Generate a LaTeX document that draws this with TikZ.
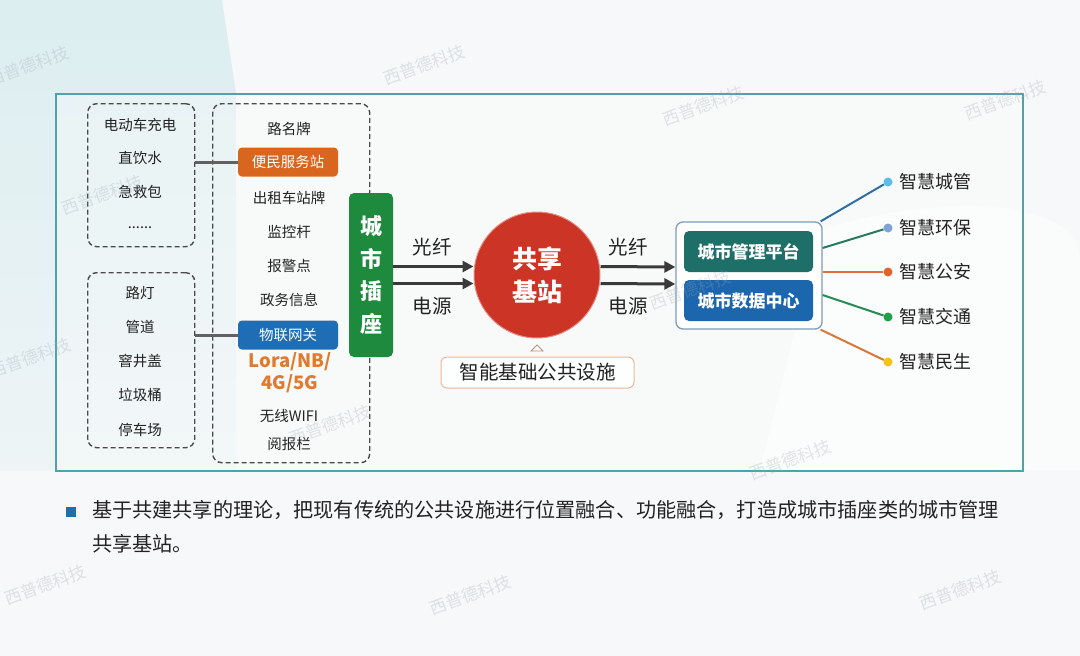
\documentclass[tikz,border=0pt]{standalone}
\usepackage{fontspec}
\setmainfont{Noto Sans CJK SC}
\usetikzlibrary{arrows.meta,shapes.geometric}
\definecolor{bgBase}{HTML}{F6F8F9}
\definecolor{bgCyanT}{HTML}{DCEEF0}
\definecolor{bgCyanB}{HTML}{EEF4F6}
\definecolor{frameC}{HTML}{4FA3A9}
\definecolor{dashC}{HTML}{4A4A4A}
\definecolor{txt}{HTML}{222222}
\definecolor{svcC}{HTML}{D9661E}
\definecolor{iotC}{HTML}{1F6DB5}
\definecolor{loraC}{HTML}{E27A2E}
\definecolor{plugC}{HTML}{1E8A3E}
\definecolor{hubC}{HTML}{CC3426}
\definecolor{arrC}{HTML}{3A3A3A}
\definecolor{infraC}{HTML}{E8B89A}
\definecolor{panelC}{HTML}{7E9CB8}
\definecolor{mgmtC}{HTML}{1D6F68}
\definecolor{dataC}{HTML}{1C66AE}
\definecolor{lA}{HTML}{2F6EA5}\definecolor{dA}{HTML}{5BBDE8}
\definecolor{lB}{HTML}{2A7A5E}\definecolor{dB}{HTML}{7FA3D4}
\definecolor{lC}{HTML}{E07040}\definecolor{dC}{HTML}{E0622C}
\definecolor{lD}{HTML}{2A8A55}\definecolor{dD}{HTML}{22A048}
\definecolor{lE}{HTML}{D9773A}\definecolor{dE}{HTML}{F4C21C}
\definecolor{bulC}{HTML}{1F6FA8}
\definecolor{wmC}{HTML}{9AA6B0}
\tikzset{
  item/.style={font=\fontsize{14.5}{15}\selectfont, text=txt, inner sep=0pt},
  dbox/.style={draw=dashC, line width=1.4pt, dash pattern=on 5pt off 3pt, rounded corners=9pt, anchor=north west, inner sep=0pt},
  tagbox/.style={rounded corners=4pt, text=white, minimum width=100pt, minimum height=29pt, inner sep=0pt, font=\fontsize{14.5}{15}\selectfont},
  conn/.style={draw=arrC!80, line width=3pt},
  arr/.style={draw=arrC, line width=3pt, -{Triangle[length=11pt,width=11pt]}},
  lbl/.style={font=\fontsize{19.5}{20}\selectfont, text=txt, inner sep=0pt},
  spoke/.style={line width=2pt},
  dot/.style={circle, minimum size=9pt, inner sep=0pt},
  smart/.style={font=\fontsize{18}{18}\selectfont, text=txt, anchor=west, inner sep=0pt},
  wm/.style={font=\fontsize{17}{17}\selectfont, text=wmC, opacity=0.28, rotate=20, inner sep=0pt},
}
\begin{document}
\begin{tikzpicture}[x=1pt,y=-1pt]
\useasboundingbox (0,0) rectangle (1080,656);
% background
\fill[bgBase] (0,0) rectangle (1080,656);
\shade[top color=bgCyanT, bottom color=bgCyanB] (0,0) -- (222,0) -- (236,93) -- (236,470) -- (0,470) -- cycle;
\fill[white, opacity=0.45] (820,230) .. controls (950,190) and (1080,200) .. (1080,260) -- (1080,470) -- (760,470) -- cycle;
% frame
\node[draw=frameC, line width=2pt, fill=white, fill opacity=0.3, minimum width=967pt, minimum height=377pt, anchor=north west, inner sep=0pt] (frame) at (55,93) {};
% left dashed boxes
\node[dbox, minimum width=107pt, minimum height=143pt] (lb1) at (87,103) {};
\node[dbox, minimum width=107pt, minimum height=175pt] (lb2) at (87,272) {};
\node[dbox, minimum width=157pt, minimum height=359pt] (mb) at (212,103) {};
% left box 1 items
\node[item] (a1) at (140,125) {电动车充电};
\node[item] (a2) at (140,158) {直饮水};
\node[item] (a3) at (140,192) {急救包};
\node[item] (a4) at (140,228) {......};
% left box 2 items
\node[item] (b1) at (140,293) {路灯};
\node[item] (b2) at (140,327) {管道};
\node[item] (b3) at (140,361) {窨井盖};
\node[item] (b4) at (140,395) {垃圾桶};
\node[item] (b5) at (140,430) {停车场};
% middle items
\node[item] (m1) at (289,129) {路名牌};
\node[tagbox, fill=svcC] (svc) at (288,162) {便民服务站};
\node[item] (m2) at (289,198) {出租车站牌};
\node[item] (m3) at (289,232) {监控杆};
\node[item] (m4) at (289,266) {报警点};
\node[item] (m5) at (289,300) {政务信息};
\node[tagbox, fill=iotC] (iot) at (288,335) {物联网关};
\node[font=\fontsize{18.5}{22}\selectfont\bfseries, text=loraC, align=center, inner sep=0pt] (lora) at (290,373) {Lora/NB/\\4G/5G};
\node[item] (m6) at (289,416) {无线WIFI};
\node[item] (m7) at (289,444) {阅报栏};
% connectors left
\draw[conn] (lb1.east |- svc.west) -- (svc.west);
\draw[conn] (lb2.east |- iot.west) -- (iot.west);
% plug bar
\node[fill=plugC, rounded corners=5pt, minimum width=44pt, minimum height=164pt, inner sep=0pt, text=white, align=center, font=\fontsize{22}{32.5}\selectfont\bfseries] (plug) at (371,275) {城\\市\\插\\座};
% hub
\node[circle, fill=hubC, draw=hubC!55!white, line width=1pt, minimum size=126pt, inner sep=0pt, text=white, align=center, font=\fontsize{25}{33}\selectfont\bfseries] (hub) at (537,275) {共享\\基站};
% arrows to hub
\draw[arr] ([yshift=8.5pt]plug.east) -- ([yshift=8.5pt]hub.west);
\draw[arr] ([yshift=-8.5pt]plug.east) -- ([yshift=-8.5pt]hub.west);
\node[lbl] (f1) at (432,247) {光纤};
\node[lbl] (p1) at (432,306) {电源};
% infra
\node[draw=infraC, line width=1pt, fill=white, fill opacity=0.8, text opacity=1, rounded corners=6pt, minimum width=193pt, minimum height=31pt, inner sep=0pt, font=\fontsize{19.5}{20}\selectfont, text=txt] (infra) at (537.5,372.5) {智能基础公共设施};
\draw[draw=infraC!80!black, line width=0.9pt, fill=white] (531,351) -- (537,345) -- (543,351) -- cycle;
% panel
\node[draw=panelC, line width=1.3pt, fill=white, rounded corners=7pt, minimum width=146pt, minimum height=107pt, inner sep=0pt] (panel) at (749,275.5) {};
\node[fill=mgmtC, rounded corners=5pt, minimum width=129pt, minimum height=41pt, inner sep=0pt, text=white, font=\fontsize{17}{17}\selectfont\bfseries] (mgmt) at (748.5,251.5) {城市管理平台};
\node[fill=dataC, rounded corners=5pt, minimum width=129pt, minimum height=41pt, inner sep=0pt, text=white, font=\fontsize{17}{17}\selectfont\bfseries] (data) at (748.5,300.5) {城市数据中心};
% arrows hub to panel
\draw[arr] ([yshift=8.5pt]hub.east) -- ([yshift=8.5pt]panel.west);
\draw[arr] ([yshift=-8.5pt]hub.east) -- ([yshift=-8.5pt]panel.west);
\node[lbl] (f2) at (628,247) {光纤};
\node[lbl] (p2) at (628,306) {电源};
% spokes
\node[dot, fill=dA] (d1) at (888,182) {};
\node[dot, fill=dB] (d2) at (888,228) {};
\node[dot, fill=dC] (d3) at (888,272) {};
\node[dot, fill=dD] (d4) at (888,317) {};
\node[dot, fill=dE] (d5) at (888,362) {};
\draw[spoke, draw=lA] ([xshift=-2pt]panel.north east) -- (d1);
\draw[spoke, draw=lB] ([yshift=27.5pt]panel.east) -- (d2);
\draw[spoke, draw=lC] ([yshift=3.5pt]panel.east) -- (d3);
\draw[spoke, draw=lD] ([yshift=-19.5pt]panel.east) -- (d4);
\draw[spoke, draw=lE] ([xshift=-2pt]panel.south east) -- (d5);
\node[smart] (s1) at (899,182) {智慧城管};
\node[smart] (s2) at (899,228) {智慧环保};
\node[smart] (s3) at (899,272) {智慧公安};
\node[smart] (s4) at (899,317) {智慧交通};
\node[smart] (s5) at (899,362) {智慧民生};
% bottom note
\node[fill=bulC, minimum size=10pt, inner sep=0pt] (bul) at (71,512) {};
\node[anchor=north west, align=left, inner sep=0pt, text=txt, font=\fontsize{20.15}{34}\selectfont] (note) at (92,500) {基于共建共享的理论，把现有传统的公共设施进行位置融合、功能融合，打造成城市插座类的城市管理\\共享基站。};
% watermarks
\node[wm] (w1) at (28,66) {西普德科技};
\node[wm] (w2) at (424,65) {西普德科技};
\node[wm] (w3) at (703,106) {西普德科技};
\node[wm] (w4) at (1005,100) {西普德科技};
\node[wm] (w5) at (102,195) {西普德科技};
\node[wm] (w6) at (30,358) {西普德科技};
\node[wm] (w7) at (690,290) {西普德科技};
\node[wm] (w8) at (330,425) {西普德科技};
\node[wm] (w9) at (790,460) {西普德科技};
\node[wm] (w10) at (45,585) {西普德科技};
\node[wm] (w11) at (470,595) {西普德科技};
\node[wm] (w12) at (960,590) {西普德科技};
\end{tikzpicture}
\end{document}
